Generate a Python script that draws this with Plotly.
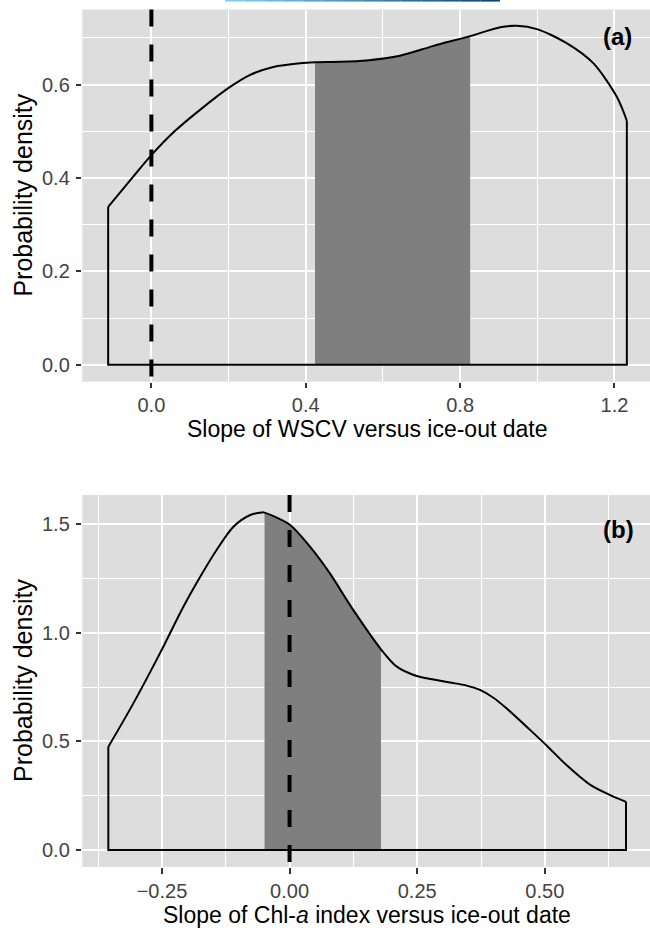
import plotly.graph_objects as go

# ---------------- Data ----------------
# Panel (a): posterior density of slope of WSCV vs ice-out date
a_x = [-0.112, -0.047, 0.0, 0.060, 0.126, 0.202, 0.256, 0.316, 0.385, 0.424, 0.490,
       0.558, 0.644, 0.731, 0.826, 0.904, 0.947, 0.999, 1.076, 1.145, 1.206, 1.232]
a_y = [0.338, 0.403, 0.449, 0.500, 0.546, 0.594, 0.621, 0.638, 0.646, 0.648, 0.649,
       0.652, 0.662, 0.683, 0.704, 0.723, 0.726, 0.719, 0.689, 0.646, 0.574, 0.523]
a_ci = [0.424, 0.826]
a_xtickvals = [0.0, 0.4, 0.8, 1.2]
a_xticktext = ["0.0", "0.4", "0.8", "1.2"]
a_xminor = [0.2, 0.6, 1.0]
a_ytickvals = [0.0, 0.2, 0.4, 0.6]
a_yticktext = ["0.0", "0.2", "0.4", "0.6"]
a_yminor = [0.1, 0.3, 0.5, 0.7]

# Panel (b): posterior density of slope of Chl-a index vs ice-out date
b_x = [-0.355, -0.306, -0.254, -0.208, -0.175, -0.143, -0.110, -0.077, -0.054,
       -0.049, 0.001, 0.040, 0.079, 0.125, 0.179, 0.210, 0.249, 0.282, 0.314,
       0.345, 0.373, 0.400, 0.426, 0.471, 0.504, 0.543, 0.589, 0.628, 0.659]
b_y = [0.475, 0.675, 0.905, 1.120, 1.258, 1.381, 1.488, 1.542, 1.554,
       1.553, 1.496, 1.396, 1.273, 1.104, 0.924, 0.844, 0.801, 0.785, 0.771,
       0.758, 0.737, 0.700, 0.650, 0.553, 0.480, 0.390, 0.300, 0.253, 0.222]
b_ci = [-0.049, 0.179]
b_xtickvals = [-0.25, 0.0, 0.25, 0.50]
b_xticktext = ["\u22120.25", "0.00", "0.25", "0.50"]
b_xminor = [-0.375, -0.125, 0.125, 0.375, 0.625]
b_ytickvals = [0.0, 0.5, 1.0, 1.5]
b_yticktext = ["0.0", "0.5", "1.0", "1.5"]
b_yminor = [0.25, 0.75, 1.25]

# ---------------- Layout geometry ----------------
W, H = 650, 930
FONT = "Liberation Sans, Arial, Helvetica, sans-serif"
PANEL_BG = "#DDDDDD"
SHADE = "#7F7F7F"
SMOOTH = 0.8

x_dom = [82.3 / W, 1.0]
ya_dom = [1 - 381.7 / H, 1 - 9.5 / H]
yb_dom = [1 - 867.0 / H, 1 - 495.0 / H]

a_xrange = [-0.179, 1.292]
a_yrange = [-0.0364, 0.761]
b_xrange = [-0.406, 0.706]
b_yrange = [-0.078, 1.634]

fig = go.Figure()


def add_panel(xs, ys, ci, xa, ya):
    sx = [x for x in xs if ci[0] <= x <= ci[1]]
    sy = [y for x, y in zip(xs, ys) if ci[0] <= x <= ci[1]]
    fig.add_trace(go.Scatter(x=sx, y=sy, mode="lines", fill="tozeroy",
                             fillcolor=SHADE,
                             line=dict(width=0, shape="spline", smoothing=SMOOTH,
                                       color=SHADE),
                             xaxis=xa, yaxis=ya, hoverinfo="skip",
                             showlegend=False))
    fig.add_trace(go.Scatter(x=xs, y=ys, mode="lines",
                             line=dict(width=2, color="black", shape="spline",
                                       smoothing=SMOOTH),
                             xaxis=xa, yaxis=ya, hoverinfo="skip",
                             showlegend=False))
    fig.add_trace(go.Scatter(x=[xs[0], xs[0], xs[-1], xs[-1]],
                             y=[ys[0], 0, 0, ys[-1]], mode="lines",
                             line=dict(width=2, color="black"),
                             xaxis=xa, yaxis=ya, hoverinfo="skip",
                             showlegend=False))


add_panel(a_x, a_y, a_ci, "x", "y")
add_panel(b_x, b_y, b_ci, "x2", "y2")


def axis_style(tickvals, ticktext, minor_vals, rng, dom, anchor):
    return dict(
        domain=dom, range=rng, anchor=anchor,
        tickmode="array", tickvals=tickvals, ticktext=ticktext,
        ticks="outside", ticklen=5.5, tickwidth=1.8, tickcolor="#333333",
        tickfont=dict(family=FONT, size=20, color="#444444"),
        showgrid=True, gridcolor="white", gridwidth=2.0,
        minor=dict(tickmode="array", tickvals=minor_vals, showgrid=True,
                   gridcolor="white", gridwidth=1.1, ticks=""),
        zeroline=False, showline=False, fixedrange=True,
    )


fig.update_layout(
    width=W, height=H,
    margin=dict(l=0, r=0, t=0, b=0),
    paper_bgcolor="white", plot_bgcolor=PANEL_BG,
    showlegend=False,
    xaxis=axis_style(a_xtickvals, a_xticktext, a_xminor, a_xrange, x_dom, "y"),
    yaxis=axis_style(a_ytickvals, a_yticktext, a_yminor, a_yrange, ya_dom, "x"),
    xaxis2=axis_style(b_xtickvals, b_xticktext, b_xminor, b_xrange, x_dom, "y2"),
    yaxis2=axis_style(b_ytickvals, b_yticktext, b_yminor, b_yrange, yb_dom, "x2"),
)
fig.update_yaxes(ticklabelstandoff=2)
fig.update_xaxes(ticklabelstandoff=0)

# Dashed reference line at zero slope
for xr, yr in [("x", "y domain"), ("x2", "y2 domain")]:
    fig.add_shape(type="line", xref=xr, yref=yr, x0=0, x1=0, y0=1, y1=0,
                  line=dict(color="black", width=4, dash="17px,18px"))

# Thin gradient strip at the top edge of the page
n_seg = 14
x_start, x_end = 225 / W, 500 / W
c0, c1 = (125, 208, 245), (10, 72, 120)
for i in range(n_seg):
    t = i / (n_seg - 1)
    col = "rgb({},{},{})".format(*[int(round(c0[k] + (c1[k] - c0[k]) * t)) for k in range(3)])
    fig.add_shape(type="rect", xref="paper", yref="paper",
                  x0=x_start + (x_end - x_start) * i / n_seg,
                  x1=x_start + (x_end - x_start) * (i + 1) / n_seg,
                  y0=1 - 1.6 / H, y1=1, line=dict(width=0), fillcolor=col)

# Panel labels
fig.add_annotation(text="<b>(a)</b>", x=1.209, y=0.704, xref="x", yref="y",
                   xanchor="center", yanchor="middle", showarrow=False,
                   font=dict(family=FONT, size=24, color="black"))
fig.add_annotation(text="<b>(b)</b>", x=0.644, y=1.477, xref="x2", yref="y2",
                   xanchor="center", yanchor="middle", showarrow=False,
                   font=dict(family=FONT, size=24, color="black"))

# Axis titles
fig.add_annotation(text="Slope of WSCV versus ice-out date",
                   x=367 / W, y=1 - 429 / H, xref="paper", yref="paper",
                   xanchor="center", yanchor="middle", showarrow=False,
                   font=dict(family=FONT, size=23, color="black"))
fig.add_annotation(text="Slope of Chl-<i>a</i> index versus ice-out date",
                   x=367 / W, y=1 - 914.5 / H, xref="paper", yref="paper",
                   xanchor="center", yanchor="middle", showarrow=False,
                   font=dict(family=FONT, size=23, color="black"))
for yc in [195.6, 681.0]:
    fig.add_annotation(text="Probability density", x=23 / W, y=1 - yc / H,
                       xref="paper", yref="paper", textangle=-90,
                       xanchor="center", yanchor="middle", showarrow=False,
                       font=dict(family=FONT, size=25, color="black"))

fig.write_html("out.html")
